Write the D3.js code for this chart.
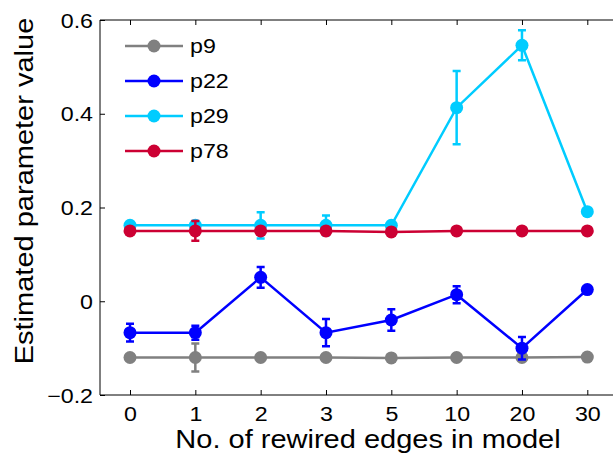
<!DOCTYPE html>
<html>
<head>
<meta charset="utf-8">
<script src="https://cdn.jsdelivr.net/npm/d3@7"></script>
<style>
  body { margin: 0; background: #fff; }
  text { font-family: "Liberation Sans", Arial, sans-serif; fill: #000; }
</style>
</head>
<body>
<svg id="chart" width="613" height="464"></svg>
<script>
// rewired edge counts (x categories)
const edges = ["0", "1", "2", "3", "5", "10", "20", "30"];

// estimated values per parameter
const p9  = [-0.120, -0.120, -0.120, -0.120, -0.121, -0.120, -0.120, -0.119];
const p22 = [-0.067, -0.067, 0.051, -0.067, -0.040, 0.014, -0.100, 0.025];
const p29 = [0.162, 0.162, 0.162, 0.162, 0.162, 0.413, 0.546, 0.191];
const p78 = [0.150, 0.150, 0.150, 0.150, 0.148, 0.150, 0.150, 0.150];

// error bar half widths
const e9  = [0.003, 0.030, 0.002, 0.002, 0.002, 0.002, 0.003, 0.002];
const e22 = [0.019, 0.015, 0.022, 0.029, 0.023, 0.018, 0.024, 0.003];
const e29 = [0.004, 0.006, 0.028, 0.021, 0.003, 0.078, 0.032, 0.003];
const e78 = [0.003, 0.021, 0.003, 0.003, 0.002, 0.002, 0.002, 0.002];

const yTicks = [-0.2, 0, 0.2, 0.4, 0.6];

const series = [
    { name: "p9",  values: p9,  err: e9,  color: "#808080" },
    { name: "p22", values: p22, err: e22, color: "#0000ff" },
    { name: "p29", values: p29, err: e29, color: "#00ccff" },
    { name: "p78", values: p78, err: e78, color: "#cc0033" }
];

const svg = d3.select("#chart");
const box = { left: 100, right: 637, top: 20, bottom: 395 };
const stretch = 1.16;

const x = d3.scaleLinear()
    .domain([0, edges.length - 1])
    .range([130, 587.3]);
const y = d3.scaleLinear()
    .domain([-0.2, 0.6])
    .range([box.bottom, box.top]);

// widen text a bit, the original font runs wider than Liberation Sans
const widen = (sel) => sel.each(function() {
    const w = this.getComputedTextLength();
    d3.select(this)
        .attr("textLength", w * stretch)
        .attr("lengthAdjust", "spacingAndGlyphs");
});

// axes
const idx = d3.range(edges.length);

const xAxis = svg.append("g")
    .attr("transform", "translate(0," + box.bottom + ")")
    .call(d3.axisBottom(x).tickValues(idx).tickFormat(i => edges[i])
        .tickSizeInner(-5).tickSizeOuter(0).tickPadding(12));
xAxis.selectAll("text").style("font-size", "20px");

svg.append("g")
    .attr("transform", "translate(0," + box.top + ")")
    .call(d3.axisTop(x).tickValues(idx).tickFormat("")
        .tickSizeInner(-5).tickSizeOuter(0));

const yAxis = svg.append("g")
    .attr("transform", "translate(" + box.left + ",0)")
    .call(d3.axisLeft(y).tickValues(yTicks)
        .tickFormat(d => d < 0 ? "\u2212" + Math.abs(d) : d3.format("")(d))
        .tickSizeInner(-5).tickSizeOuter(0).tickPadding(7));
yAxis.selectAll("text").style("font-size", "20px").attr("dy", "0.36em");

svg.selectAll(".domain").remove();
svg.selectAll(".tick line").attr("stroke", "#000");
svg.selectAll(".tick text").call(widen);

// box lines
svg.append("path")
    .attr("d", `M${box.right},${box.top}H${box.left}V${box.bottom}H${box.right}`)
    .attr("fill", "none")
    .attr("stroke", "#000")
    .attr("stroke-width", 1);

// series
const line = d3.line()
    .x((d, i) => x(i))
    .y(d => d);

series.forEach(s => {
    const g = svg.append("g");
    g.append("path")
        .datum(s.values.map(v => y(v)))
        .attr("d", line)
        .attr("fill", "none")
        .attr("stroke", s.color)
        .attr("stroke-width", 2.5);

    const eb = g.selectAll(".eb")
        .data(s.values.map((v, i) => ({ i: i, lo: v - s.err[i], hi: v + s.err[i] })))
        .join("path")
        .attr("d", d => {
            const cx = x(d.i), y0 = y(d.lo), y1 = y(d.hi);
            return `M${cx - 4},${y0}H${cx + 4}M${cx},${y0}V${y1}M${cx - 4},${y1}H${cx + 4}`;
        })
        .attr("fill", "none")
        .attr("stroke", s.color)
        .attr("stroke-width", 2.5);

    g.selectAll("circle")
        .data(s.values)
        .join("circle")
        .attr("cx", (d, i) => x(i))
        .attr("cy", d => y(d))
        .attr("r", 6.5)
        .attr("fill", s.color);
});

// legend
const legend = svg.append("g");
series.forEach((s, k) => {
    const ly = 46 + k * 35;
    legend.append("line")
        .attr("x1", 125).attr("x2", 183)
        .attr("y1", ly).attr("y2", ly)
        .attr("stroke", s.color)
        .attr("stroke-width", 2.5);
    legend.append("circle")
        .attr("cx", 154).attr("cy", ly)
        .attr("r", 6.5)
        .attr("fill", s.color);
    legend.append("text")
        .attr("x", 190).attr("y", ly)
        .attr("dy", "0.36em")
        .style("font-size", "20px")
        .text(s.name)
        .call(widen);
});

// axis titles
svg.append("text")
    .attr("x", 368).attr("y", 448)
    .attr("text-anchor", "middle")
    .style("font-size", "25px")
    .text("No. of rewired edges in model")
    .call(widen);

svg.append("text")
    .attr("transform", "translate(33,191) rotate(-90)")
    .attr("text-anchor", "middle")
    .style("font-size", "25px")
    .text("Estimated parameter value")
    .call(widen);
</script>
</body>
</html>
